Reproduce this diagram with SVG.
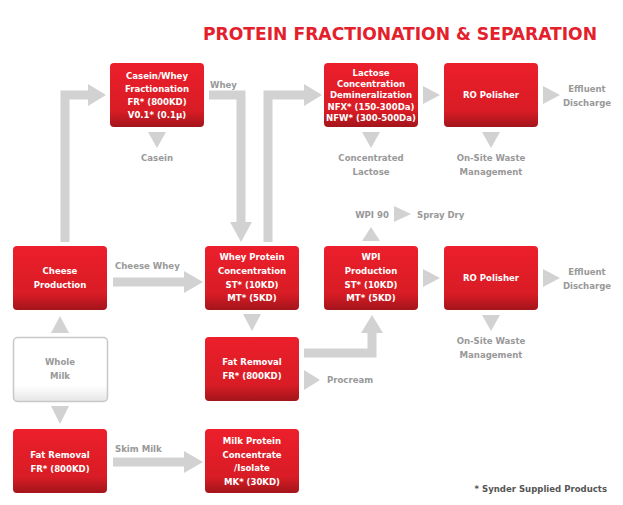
<svg xmlns="http://www.w3.org/2000/svg" width="623" height="505" viewBox="0 0 623 505">
<defs>
<linearGradient id="rg" x1="0" y1="0" x2="0" y2="1"><stop offset="0" stop-color="#ec1f2b"/><stop offset="0.75" stop-color="#d81c25"/><stop offset="1" stop-color="#a3141b"/></linearGradient>
<linearGradient id="wg" x1="0" y1="0" x2="0" y2="1"><stop offset="0" stop-color="#fff"/><stop offset="0.75" stop-color="#fff"/><stop offset="1" stop-color="#e6e6e6"/></linearGradient>
</defs>
<style>
.b{fill:url(#rg)}
.t{font-family:"DejaVu Sans Condensed","Liberation Sans",sans-serif;font-weight:bold;font-size:9.5px;fill:#fff;text-anchor:middle}
.g{font-family:"DejaVu Sans Condensed","Liberation Sans",sans-serif;font-weight:bold;font-size:9.5px;fill:#999}
.m{text-anchor:middle}
.l{fill:none;stroke:#d2d2d2;stroke-width:9}
.a{fill:#d2d2d2}
</style>
<rect width="623" height="505" fill="#fff"/>
<text x="400" y="40" text-anchor="middle" textLength="394" lengthAdjust="spacingAndGlyphs" style="font-family:'DejaVu Sans Condensed','Liberation Sans',sans-serif;font-weight:bold;font-size:18px;fill:#e3202b">PROTEIN FRACTIONATION &amp; SEPARATION</text>
<g id="connectors">
<polyline class="l" points="65,242 65,95 90,95"/><polygon class="a" points="88,84 106,95 88,106"/>
<polyline class="l" points="209,95 241,95 241,224"/><polygon class="a" points="230,222 241,242 252,222"/>
<polygon class="a" points="148,132 166,132 157,148"/>
<line class="l" x1="113" y1="282" x2="186" y2="282"/><polygon class="a" points="184,271 203,282 184,293"/>
<polyline class="l" points="268,242 268,95 306,95"/><polygon class="a" points="304,84 322,95 304,106"/>
<polygon class="a" points="423,86 440,95 423,104"/>
<polygon class="a" points="543,86 560,95 543,104"/>
<polygon class="a" points="362,132 380,132 371,148"/>
<polygon class="a" points="482,132 500,132 491,148"/>
<polygon class="a" points="362,241 380,241 371,227"/>
<polygon class="a" points="394,206 411,214 394,222"/>
<polygon class="a" points="423,269 440,278 423,287"/>
<polygon class="a" points="543,269 560,278 543,287"/>
<polygon class="a" points="482,315 500,315 491,331"/>
<polygon class="a" points="243,314 261,314 252,331"/>
<polyline class="l" points="304,353 372,353 372,332"/><polygon class="a" points="361,333 372,315 383,333"/>
<polygon class="a" points="304,370 320,380 304,390"/>
<polygon class="a" points="51,333 69,333 60,316"/>
<polygon class="a" points="51,406 69,406 60,424"/>
<line class="l" x1="113" y1="462" x2="186" y2="462"/><polygon class="a" points="184,451 203,462 184,473"/>
</g>
<g id="labels">
<text class="g" x="210" y="88">Whey</text>
<text class="g m" x="157" y="161">Casein</text>
<text class="g" x="115" y="269">Cheese Whey</text>
<text class="g m" x="371" y="161">Concentrated</text><text class="g m" x="371" y="175">Lactose</text>
<text class="g m" x="491" y="161">On-Site Waste</text><text class="g m" x="491" y="175">Management</text>
<text class="g m" x="587" y="92">Effluent</text><text class="g m" x="587" y="106">Discharge</text>
<text class="g m" x="372" y="218">WPI 90</text>
<text class="g" x="417" y="218">Spray Dry</text>
<text class="g m" x="587" y="275">Effluent</text><text class="g m" x="587" y="289">Discharge</text>
<text class="g m" x="491" y="344">On-Site Waste</text><text class="g m" x="491" y="358">Management</text>
<text class="g" x="327" y="383">Procream</text>
<text class="g" x="115" y="452">Skim Milk</text>
<text class="g" x="607" y="492" text-anchor="end" style="fill:#555">* Synder Supplied Products</text>
</g>
<g id="casein"><rect class="b" x="110" y="63" width="94" height="64" rx="4"/><text class="t" x="157" y="79">Casein/Whey</text><text class="t" x="157" y="92">Fractionation</text><text class="t" x="157" y="105">FR* (800KD)</text><text class="t" x="157" y="118">V0.1* (0.1µ)</text></g>
<g id="lactose"><rect class="b" x="324" y="63" width="94" height="64" rx="4"/><text class="t" x="371" y="76">Lactose</text><text class="t" x="371" y="87">Concentration</text><text class="t" x="371" y="98">Demineralization</text><text class="t" x="371" y="110">NFX* (150-300Da)</text><text class="t" x="371" y="121">NFW* (300-500Da)</text></g>
<g id="ro1"><rect class="b" x="444" y="63" width="94" height="64" rx="4"/><text class="t" x="491" y="98">RO Polisher</text></g>
<g id="cheese"><rect class="b" x="13" y="246" width="94" height="64" rx="4"/><text class="t" x="60" y="274">Cheese</text><text class="t" x="60" y="288">Production</text></g>
<g id="wpc"><rect class="b" x="205" y="246" width="94" height="64" rx="4"/><text class="t" x="252" y="260">Whey Protein</text><text class="t" x="252" y="274">Concentration</text><text class="t" x="252" y="288">ST* (10KD)</text><text class="t" x="252" y="301">MT* (5KD)</text></g>
<g id="wpi"><rect class="b" x="324" y="246" width="94" height="64" rx="4"/><text class="t" x="371" y="260">WPI</text><text class="t" x="371" y="274">Production</text><text class="t" x="371" y="288">ST* (10KD)</text><text class="t" x="371" y="301">MT* (5KD)</text></g>
<g id="ro2"><rect class="b" x="444" y="246" width="94" height="64" rx="4"/><text class="t" x="491" y="281">RO Polisher</text></g>
<g id="wholemilk"><rect x="13.5" y="337.5" width="94" height="64" rx="4" fill="url(#wg)" stroke="#c8c8c8" stroke-width="1.5"/><text class="g m" x="60" y="365">Whole</text><text class="g m" x="60" y="379">Milk</text></g>
<g id="fat2"><rect class="b" x="205" y="337" width="94" height="64" rx="4"/><text class="t" x="252" y="365">Fat Removal</text><text class="t" x="252" y="379">FR* (800KD)</text></g>
<g id="fat1"><rect class="b" x="13" y="429" width="94" height="64" rx="4"/><text class="t" x="60" y="458">Fat Removal</text><text class="t" x="60" y="472">FR* (800KD)</text></g>
<g id="mpc"><rect class="b" x="205" y="429" width="94" height="64" rx="4"/><text class="t" x="252" y="444">Milk Protein</text><text class="t" x="252" y="458">Concentrate</text><text class="t" x="252" y="471">/Isolate</text><text class="t" x="252" y="485">MK* (30KD)</text></g>
</svg>
